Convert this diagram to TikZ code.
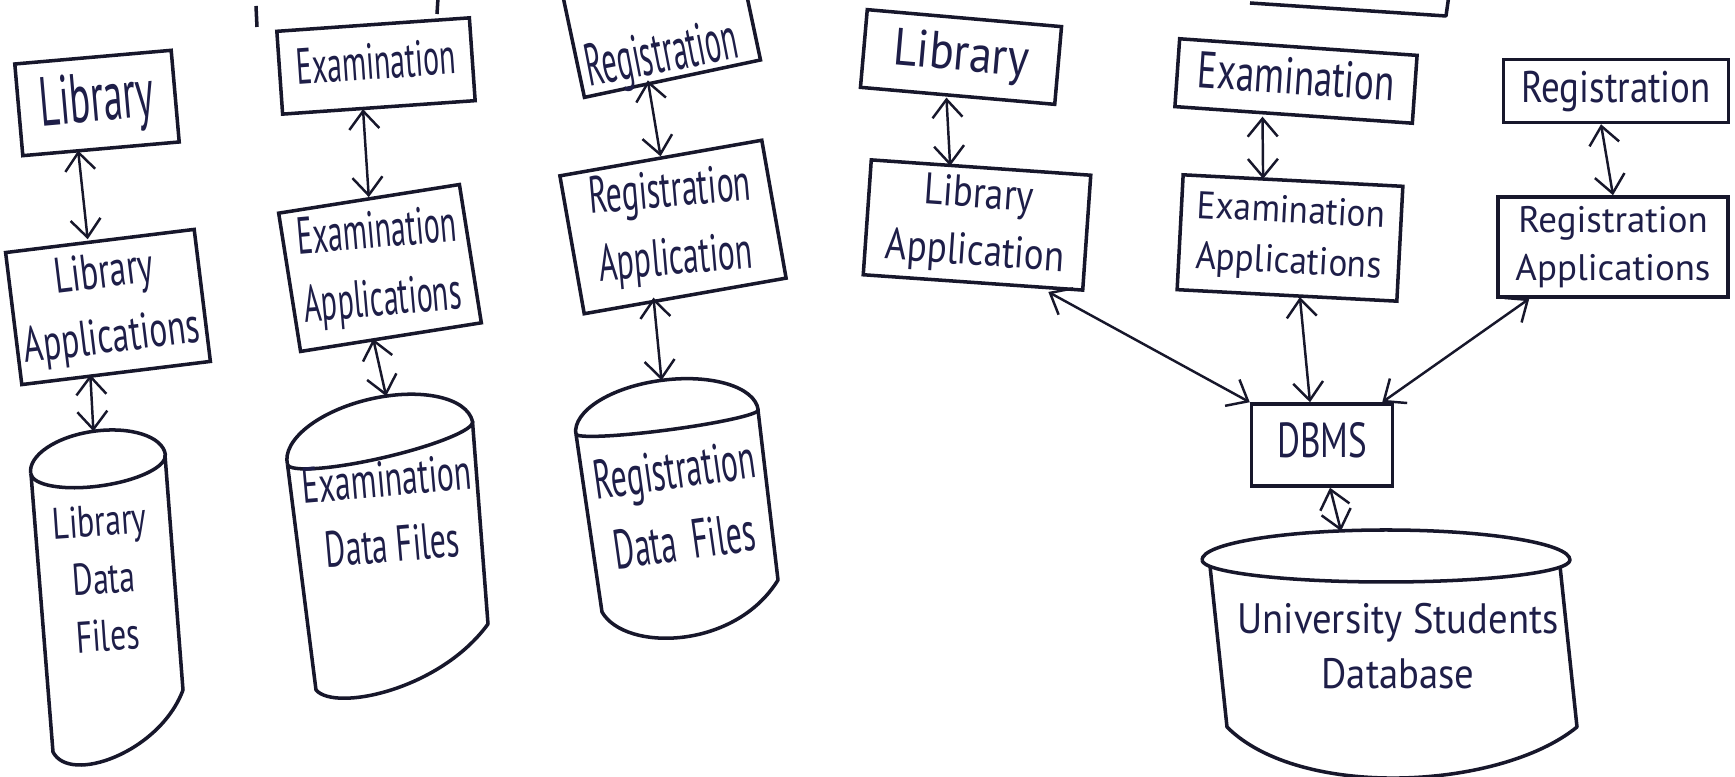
\documentclass[tikz,border=0pt]{standalone}
\usepackage{fontspec}
\setmainfont{PT Sans}
\usetikzlibrary{arrows.meta}

\definecolor{ink}{HTML}{17172B}
\definecolor{pen}{HTML}{1E1E48}

% tall, narrow lettering: size in pt, vertical stretch, lines
\newcommand\hw[3]{\scalebox{1}[#2]{\fontsize{#1}{#1}\selectfont
  \renewcommand\arraystretch{1.3}\begin{tabular}{@{}c@{}}#3\end{tabular}}}

\begin{document}
\begin{tikzpicture}[x=0.1mm, y=-0.1mm,
  box/.style={draw=ink, line width=1pt, inner sep=0pt, text=pen},
  cyltext/.style={inner sep=0pt, text=pen},
  drum/.style={draw=ink, line width=1pt, line join=round},
  link/.style={draw=ink, line width=0.7pt,
    {Straight Barb[length=1.8mm,width=3mm]}-{Straight Barb[length=1.8mm,width=3mm]}}]

\useasboundingbox (0,0) rectangle (1735,777);
\fill[white] (0,0) rectangle (1735,777);
\clip (0,0) rectangle (1735,777);

% ---------------- file-based layout ----------------
\node[box, minimum width=15.7mm, minimum height=9.2mm, rotate=5] (lib) at (97,103) {\hw{11}{1.8}{Library}};
\node[box, minimum width=19mm, minimum height=13.3mm, rotate=7] (libapp) at (108,307) {\hw{9.5}{1.5}{Library\\Applications}};

\node[box, minimum width=19.3mm, minimum height=8.3mm, rotate=4] (exam) at (376,66) {\hw{8.5}{1.7}{Examination}};
\node[box, minimum width=18.3mm, minimum height=14mm, rotate=9] (examapp) at (380,268) {};
\node[cyltext, rotate=5] (examappT) at (380,268) {\hw{8.5}{1.75}{Examination\\Applications}};

\node[box, minimum width=18mm, minimum height=12mm, rotate=12] (reg) at (660,20) {};
\node[cyltext, rotate=11] (regT) at (662,57) {\hw{8.5}{2}{Registration}};
\node[box, minimum width=20.5mm, minimum height=14mm, rotate=10] (regapp) at (673,227) {};
\node[cyltext, rotate=5] (regappT) at (673,227) {\hw{9}{1.65}{Registration\\Application}};

% library data files
\begin{scope}[shift={(98,464)}, rotate=8]
  \draw[drum] (-68,0) arc[start angle=180, end angle=0, x radius=6.8mm, y radius=3.3mm]
                      arc[start angle=0, end angle=-180, x radius=6.8mm, y radius=2.2mm];
  \coordinate (libdf-top) at (0,-33);
\end{scope}
\draw[drum] (31,474) -- (53,752) .. controls (70,785) and (160,752) .. (183,690) -- (165,455);
\node[cyltext, rotate=4] (libdfT) at (104,582) {\hw{9}{1.4}{Library\\Data\\Files}};

% examination data files
\begin{scope}[shift={(380,443)}, rotate=13]
  \draw[drum] (-95,0) arc[start angle=180, end angle=0, x radius=9.5mm, y radius=4.5mm]
                      arc[start angle=0, end angle=-180, x radius=9.5mm, y radius=1.5mm];
  \coordinate (examdf-top) at (16.5,-44.3);
\end{scope}
\draw[drum] (287.5,464.4) -- (316,690) .. controls (335,712) and (440,690) .. (488,624) -- (472.5,421.6);
\node[cyltext, rotate=5] (examdfT) at (390,516) {\hw{9}{1.6}{Examination\\Data Files}};

% registration data files
\begin{scope}[shift={(667,422)}, rotate=7.5]
  \draw[drum] (-92,0) arc[start angle=180, end angle=0, x radius=9.2mm, y radius=4.2mm]
                      arc[start angle=0, end angle=-180, x radius=9.2mm, y radius=0.8mm];
  \coordinate (regdf-top) at (0,-42);
\end{scope}
\draw[drum] (576,434) -- (602,612) .. controls (625,652) and (735,650) .. (778,580) -- (758,410);
\node[cyltext, rotate=8] (regdfT) at (680,510) {\hw{9}{1.75}{Registration\\Data\enspace Files}};

\draw[link] ([xshift=-2.3mm]lib.south) -- ([xshift=-1.2mm]libapp.north);
\draw[link] ([xshift=-2.6mm]libapp.south) -- (libdf-top);
\draw[link] ([xshift=-1.6mm]exam.south) -- (examapp.north);
\draw[link] ([xshift=-1.8mm]examapp.south) -- (examdf-top);
\draw[link] ([xshift=-2.5mm]reg.south) -- (regapp.north);
\draw[link] ([xshift=-3.2mm]regapp.south) -- (regdf-top);

% ---------------- database layout ----------------
\node[box, minimum width=19.5mm, minimum height=7.8mm, rotate=-5] (lib2) at (961,57) {\hw{13}{1.15}{Library}};
\node[box, minimum width=22mm, minimum height=11.5mm, rotate=-4] (libapp2) at (977,225) {\hw{10.5}{1.2}{Library\\Application}};

\node[box, minimum width=23.8mm, minimum height=6.8mm, rotate=-4] (exam2) at (1296,81) {\hw{10.5}{1.4}{Examination}};
\node[box, minimum width=22mm, minimum height=11.5mm, rotate=-3] (examapp2) at (1290,238) {\hw{10}{1.1}{Examination\\Applications}};

\node[box, minimum width=22.5mm, minimum height=6.3mm] (reg2) at (1616,91) {\hw{10.5}{1.2}{Registration}};
\node[box, minimum width=23mm, minimum height=10mm] (regapp2) at (1613,247) {\hw{10.5}{1.0}{Registration\\Applications}};

\node[box, minimum width=14.1mm, minimum height=8.2mm] (dbms) at (1322,445) {\hw{10}{1.4}{DBMS}};

% university students database
\draw[drum] (1202,560) arc[start angle=180, end angle=0, x radius=18.4mm, y radius=3mm]
                       arc[start angle=0, end angle=-180, x radius=18.4mm, y radius=2.2mm];
\coordinate (usdb-top) at (1341,531);
\draw[drum] (1210,566) -- (1227,727) .. controls (1300,800) and (1500,790) .. (1577,727) -- (1560,566);
\node[cyltext] (usdbT) at (1398,650) {\hw{11}{1.1}{University Students\\Database}};

\draw[link] ([xshift=-1.1mm]lib2.south) -- ([xshift=-3.1mm]libapp2.north);
\draw[link] ([xshift=-3.1mm]exam2.south) -- ([xshift=-3mm]examapp2.north);
\draw[link] ([xshift=-1.5mm]reg2.south) -- (regapp2.north);
\draw[link] ([xshift=-3.6mm]libapp2.south east) -- (dbms.north west);
\draw[link] ([xshift=1.3mm]examapp2.south) -- ([xshift=-1.2mm]dbms.north);
\draw[link] ([xshift=3.3mm]regapp2.south west) -- ([xshift=-1.2mm]dbms.north east);
\draw[link] ([xshift=0.8mm]dbms.south) -- (usdb-top);

% strokes running in from the page's top edge
\draw[drum] (1250,3) -- (1446,16) -- (1449,-5);
\draw[drum] (256,6) -- (257,27);
\draw[drum] (438,-2) -- (437,14);
\end{tikzpicture}
\end{document}
